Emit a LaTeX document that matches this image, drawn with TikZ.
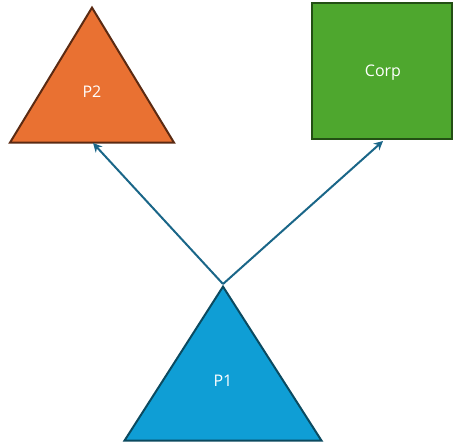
\documentclass[tikz,border=0pt]{standalone}
\usepackage{fontspec}
\setsansfont{Open Sans}
\usetikzlibrary{shapes.geometric,arrows.meta}
\definecolor{orangefill}{HTML}{E97132}
\definecolor{orangeline}{HTML}{5B2A12}
\definecolor{greenfill}{HTML}{4EA72E}
\definecolor{greenline}{HTML}{234F14}
\definecolor{bluefill}{HTML}{0F9ED5}
\definecolor{blueline}{HTML}{0B4A60}
\definecolor{linkblue}{HTML}{1A6688}
\tikzset{
	party/.style={isosceles triangle, isosceles triangle stretches, shape border rotate=90,
			draw, line width=2pt, inner sep=0pt, anchor=apex},
	corp/.style={rectangle, draw, line width=2pt, inner sep=0pt},
	lbl/.style={text=white, font=\sffamily\fontsize{16}{18}\selectfont},
	link/.style={-{Stealth[length=9pt,width=9pt]}, line width=2pt, draw=linkblue}
}

\begin{document}
\begin{tikzpicture}[x=1pt, y=-1pt]
	\useasboundingbox (0, 0) rectangle (454, 444);

	\node[party, fill=orangefill, draw=orangeline, minimum width=164, minimum height=135] (p2) at (92, 5) {};
	\node[party, fill=bluefill, draw=blueline, minimum width=197, minimum height=154] (p1) at (223, 284) {};
	\node[corp, fill=greenfill, draw=greenline, minimum width=140, minimum height=136] (corp) at (382, 71) {};

	\node[lbl] (p2text) at (92, 92) {P2};
	\node[lbl] (p1text) at (223, 381) {P1};
	\node[lbl] (corptext) at (383, 73) {Corp};

	% links out of P1
	\coordinate (p2end) at (93, 143);
	\coordinate (corpend) at (383, 141);
	\draw[link] (p1.apex) -- (p2end);
	\draw[link] (p1.apex) -- (corpend);
\end{tikzpicture}
\end{document}
